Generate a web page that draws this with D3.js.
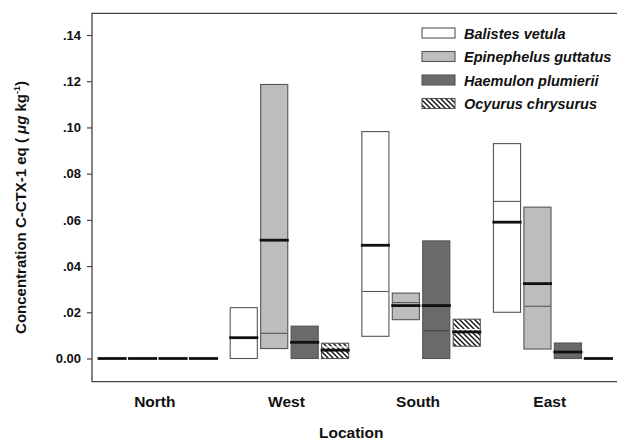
<!DOCTYPE html>
<html>
<head>
<meta charset="utf-8">
<script src="https://cdn.jsdelivr.net/npm/d3@7"></script>
<style>
  body { margin: 0; background: #fff; }
  svg { display: block; font-family: Arial, "Liberation Sans", sans-serif; }
  .tick-label { font-weight: bold; }
</style>
</head>
<body>
<div id="chart"></div>
<script>
const locations = ["North", "West", "South", "East"];
const species = ["Balistes vetula", "Epinephelus guttatus", "Haemulon plumierii", "Ocyurus chrysurus"];

// box ranges, thick line (mean) and thin line (median), per location
const balistesLow = [0, 0, 0.0096, 0.020];
const balistesHigh = [0, 0.022, 0.0982, 0.093];
const balistesMean = [0, 0.009, 0.049, 0.059];
const balistesMedian = [null, null, 0.029, 0.068];

const epinephelusLow = [0, 0.0043, 0.0168, 0.0041];
const epinephelusHigh = [0, 0.1186, 0.0283, 0.0655];
const epinephelusMean = [0, 0.0512, 0.0229, 0.0324];
const epinephelusMedian = [null, 0.0109, 0.0242, 0.0226];

const haemulonLow = [0, 0, 0, 0];
const haemulonHigh = [0, 0.014, 0.0509, 0.0067];
const haemulonMean = [0, 0.007, 0.0229, 0.0028];
const haemulonMedian = [null, null, 0.012, null];

const ocyurusLow = [0, 0, 0.0053, 0];
const ocyurusHigh = [0, 0.0066, 0.017, 0];
const ocyurusMean = [0, 0.0036, 0.0115, 0];
const ocyurusMedian = [null, 0.005, 0.0125, null];

const yTicks = [0, 0.02, 0.04, 0.06, 0.08, 0.10, 0.12, 0.14];

const seriesTable = [
  [balistesLow, balistesHigh, balistesMean, balistesMedian],
  [epinephelusLow, epinephelusHigh, epinephelusMean, epinephelusMedian],
  [haemulonLow, haemulonHigh, haemulonMean, haemulonMedian],
  [ocyurusLow, ocyurusHigh, ocyurusMean, ocyurusMedian]
];

const fills = ["#ffffff", "#bdbdbd", "#6a6a6a", "url(#hatch)"];
const thinColors = ["#555", "#555", "#444", "#fff"];

const boxes = [];
species.forEach((sp, s) => {
  locations.forEach((loc, l) => {
    boxes.push({
      species: sp,
      si: s,
      location: loc,
      low: seriesTable[s][0][l],
      high: seriesTable[s][1][l],
      mean: seriesTable[s][2][l],
      median: seriesTable[s][3][l]
    });
  });
});

const W = 617, H = 441;
const plotLeft = 92, plotRight = 618.5, plotTop = 13.3, plotBottom = 381.6;

const svg = d3.select("#chart").append("svg")
  .attr("width", W)
  .attr("height", H);

const defs = svg.append("defs");
const pat = defs.append("pattern")
  .attr("id", "hatch")
  .attr("patternUnits", "userSpaceOnUse")
  .attr("width", 5)
  .attr("height", 5);
pat.append("rect").attr("width", 5).attr("height", 5).attr("fill", "#fff");
pat.append("path")
  .attr("d", "M-1,-1L6,6M-1,4L1,6M4,-1L6,1")
  .attr("stroke", "#111")
  .attr("stroke-width", 1.4);

const x0 = d3.scaleBand()
  .domain(locations)
  .range([plotLeft, plotRight])
  .paddingInner(0.1)
  .paddingOuter(0.05);

const x1 = d3.scaleBand()
  .domain(species)
  .range([0, x0.bandwidth()])
  .paddingInner(0.11)
  .paddingOuter(0);

const y = d3.scaleLinear()
  .domain([-0.01, 0.1494])
  .range([plotBottom, plotTop]);

// frame (top, left, bottom)
svg.append("path")
  .attr("d", `M${W},${plotTop}H${plotLeft}V${plotBottom}H${W}`)
  .attr("fill", "none")
  .attr("stroke", "#444")
  .attr("stroke-width", 1.3);

// y axis
const yAxis = svg.append("g")
  .attr("transform", `translate(${plotLeft},0)`)
  .call(d3.axisLeft(y)
    .tickValues(yTicks)
    .tickSize(5)
    .tickPadding(6)
    .tickFormat(d => d === 0 ? "0.00" : d3.format(".2f")(d).replace(/^0/, "")));
yAxis.select(".domain").remove();
yAxis.selectAll(".tick line").attr("stroke", "#444").attr("stroke-width", 1.2);
yAxis.selectAll(".tick text")
  .attr("class", "tick-label")
  .attr("fill", "#111")
  .style("font-size", "13px")
  .style("font-weight", "bold")
  .style("font-family", "Arial, 'Liberation Sans', sans-serif");

// x labels
svg.append("g").selectAll("text")
  .data(locations)
  .join("text")
  .attr("x", d => x0(d) + x0.bandwidth() / 2 - 3)
  .attr("y", 406.5)
  .attr("text-anchor", "middle")
  .attr("fill", "#111")
  .style("font-size", "15.5px")
  .style("font-weight", "bold")
  .text(d => d);

svg.append("text")
  .attr("x", (plotLeft + plotRight) / 2 - 4)
  .attr("y", 437.5)
  .attr("text-anchor", "middle")
  .attr("fill", "#111")
  .style("font-size", "15.5px")
  .style("font-weight", "bold")
  .text("Location");

const yTitle = svg.append("text")
  .attr("transform", `translate(26,${(plotTop + plotBottom) / 2 + 10}) rotate(-90)`)
  .attr("text-anchor", "middle")
  .attr("fill", "#111")
  .style("font-size", "15px")
  .style("font-weight", "bold");
yTitle.append("tspan").text("Concentration C-CTX-1 eq ( ");
yTitle.append("tspan").style("font-style", "italic").text("μg");
yTitle.append("tspan").text(" kg");
yTitle.append("tspan").attr("dy", -6).style("font-size", "9px").text("-1");
yTitle.append("tspan").attr("dy", 6).text(")");

// boxes
const g = svg.append("g");
const bx = d => x0(d.location) + x1(d.species);

g.selectAll("rect.box")
  .data(boxes.filter(d => d.high > d.low))
  .join("rect")
  .attr("class", "box")
  .attr("x", bx)
  .attr("y", d => y(d.high))
  .attr("width", x1.bandwidth())
  .attr("height", d => y(d.low) - y(d.high))
  .attr("fill", d => fills[d.si])
  .attr("stroke", "#555")
  .attr("stroke-width", 1.1);

g.selectAll("line.median")
  .data(boxes.filter(d => d.median !== null))
  .join("line")
  .attr("class", "median")
  .attr("x1", d => bx(d) + 0.5)
  .attr("x2", d => bx(d) + x1.bandwidth() - 0.5)
  .attr("y1", d => y(d.median))
  .attr("y2", d => y(d.median))
  .attr("stroke", d => thinColors[d.si])
  .attr("stroke-width", 1.1);

g.selectAll("line.mean")
  .data(boxes)
  .join("line")
  .attr("class", "mean")
  .attr("x1", d => bx(d) - 1)
  .attr("x2", d => bx(d) + x1.bandwidth() + 1)
  .attr("y1", d => y(d.mean))
  .attr("y2", d => y(d.mean))
  .attr("stroke", "#111")
  .attr("stroke-width", 2.8);

// legend
const legend = svg.append("g").attr("transform", "translate(422,0)");
const legendY = [33, 56.5, 80, 103.5];
species.forEach((sp, i) => {
  legend.append("rect")
    .attr("x", 0)
    .attr("y", legendY[i] - 5)
    .attr("width", 33)
    .attr("height", 10)
    .attr("fill", fills[i])
    .attr("stroke", "#555")
    .attr("stroke-width", 1.1);
  legend.append("text")
    .attr("x", 42)
    .attr("y", legendY[i] + 5.5)
    .attr("fill", "#111")
    .style("font-size", "14.5px")
    .style("font-weight", "bold")
    .style("font-style", "italic")
    .text(sp);
});
</script>
</body>
</html>
